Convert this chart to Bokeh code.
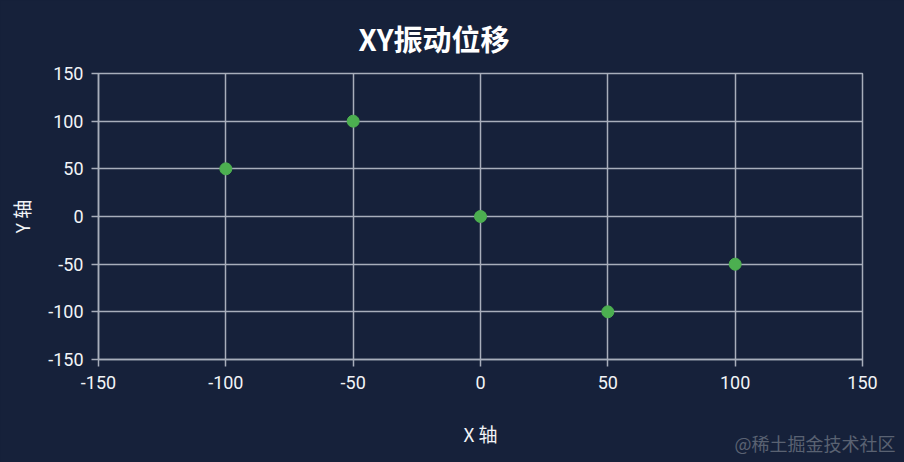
from bokeh.plotting import figure
from bokeh.models import FixedTicker, Range1d, Label, ColumnDataSource
from bokeh.embed import file_html
from bokeh.resources import INLINE

# ---- data ----
x_vals = [-100, -50, 0, 50, 100]
y_vals = [50, 100, 0, -100, -50]
x_ticks = [-150, -100, -50, 0, 50, 100, 150]
y_ticks = [-150, -100, -50, 0, 50, 100, 150]
title_text = "XY振动位移"
x_label = "X 轴"
y_label = "Y 轴"
watermark = "@稀土掘金技术社区"

BG = "#16213a"
GRID = "#a8aebb"
TXT = "#f2f4f7"
CJK = "Noto Sans CJK SC"

p = figure(width=904, height=462, output_backend="svg", toolbar_location=None,
           x_range=Range1d(-150, 150), y_range=Range1d(-150, 150),
           min_border_left=98, min_border_right=42, min_border_top=72, min_border_bottom=103,
           background_fill_color=BG, border_fill_color=BG)

p.title.text = title_text
p.title.text_font = CJK
p.title.text_font_style = "bold"
p.title.text_font_size = "29px"
p.title.text_color = "#ffffff"
p.title.align = "left"
p.title.offset = 260
p.title.standoff = 29

p.outline_line_color = GRID
p.outline_line_width = 1.5

for ax, ticks in ((p.xaxis, x_ticks), (p.yaxis, y_ticks)):
    ax.ticker = FixedTicker(ticks=ticks)
    ax.major_label_overrides = {t: str(t) for t in ticks}
    ax.axis_line_color = GRID
    ax.axis_line_width = 1.5
    ax.major_tick_line_color = GRID
    ax.major_tick_line_width = 1.5
    ax.major_tick_out = 7
    ax.major_tick_in = 0
    ax.minor_tick_line_color = None
    ax.major_label_text_color = TXT
    ax.major_label_text_font = "Roboto"
    ax.major_label_text_font_size = "18px"
    ax.axis_label_text_color = TXT
    ax.axis_label_text_font = CJK
    ax.axis_label_text_font_size = "19px"
    ax.axis_label_text_font_style = "normal"

p.yaxis.axis_label = y_label
p.xaxis.major_label_standoff = 9
p.yaxis.major_label_standoff = 8
p.yaxis.axis_label_standoff = 10

for g in (p.xgrid, p.ygrid):
    g.grid_line_color = GRID
    g.grid_line_width = 1.5

src = ColumnDataSource(dict(x=x_vals, y=y_vals))
p.scatter("x", "y", source=src, size=12, fill_color="#4caf50", line_color="#4caf50")

# x-axis title and watermark live in side panels below the axis (not clipped)
p.add_layout(Label(x=382, y=-15, x_units="screen", y_units="screen",
                   text=x_label, text_align="center", text_baseline="middle",
                   text_font=CJK, text_font_size="19px", text_color=TXT), "below")
p.add_layout(Label(x=797, y=2, x_units="screen", y_units="screen",
                   text=watermark, text_align="right", text_baseline="middle",
                   text_font=CJK, text_font_size="18px", text_color="#5a6272"), "below")

html = file_html(p, INLINE)
html = html.replace("<head>", "<head><style>body{background:%s;}</style>" % BG, 1)
open("out.html", "w").write(html)
